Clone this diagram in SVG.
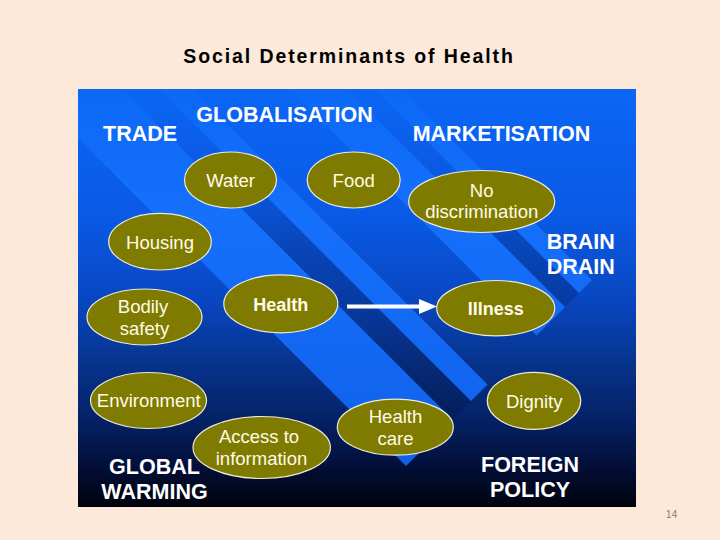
<svg xmlns="http://www.w3.org/2000/svg" width="720" height="540" viewBox="0 0 720 540">
  <defs>
    <linearGradient id="bg" x1="0" y1="0" x2="0" y2="1">
      <stop offset="0" stop-color="#0b66f6"/>
      <stop offset="0.3" stop-color="#0a5ae6"/>
      <stop offset="0.5" stop-color="#0947c2"/>
      <stop offset="0.65" stop-color="#07348f"/>
      <stop offset="0.8" stop-color="#042063"/>
      <stop offset="0.92" stop-color="#020c30"/>
      <stop offset="1" stop-color="#00030c"/>
    </linearGradient>
    <linearGradient id="band" gradientUnits="userSpaceOnUse" x1="0" y1="89" x2="0" y2="507">
      <stop offset="0" stop-color="#0c68f7"/>
      <stop offset="0.3" stop-color="#1570fc"/>
      <stop offset="1" stop-color="#0f5ee6"/>
    </linearGradient>
    <linearGradient id="shadeG" gradientUnits="userSpaceOnUse" x1="0" y1="89" x2="0" y2="507">
      <stop offset="0" stop-color="#000820" stop-opacity="0"/>
      <stop offset="0.18" stop-color="#000820" stop-opacity="0.04"/>
      <stop offset="0.4" stop-color="#000820" stop-opacity="0.18"/>
      <stop offset="1" stop-color="#000820" stop-opacity="0.2"/>
    </linearGradient>
    <clipPath id="panelClip">
      <rect x="78" y="89" width="558" height="418"/>
    </clipPath>
    <style>
      .band { fill: url(#band); }
      .shade { fill: url(#shadeG); }
      .node ellipse { fill: #7f7b00; stroke: #ecebd6; stroke-width: 1.2; }
      .node text { font-family: "Liberation Sans", Arial, sans-serif; font-size: 18.5px; fill: #fffbe8; text-anchor: middle; }
      .node text.b { font-weight: bold; font-size: 18px; }
      .lbl { font-family: "Liberation Sans", Arial, sans-serif; font-size: 21.5px; font-weight: bold; fill: #ffffff; }
    </style>
  </defs>

  <rect x="0" y="0" width="720" height="540" fill="#fce9da"/>

  <text x="183.3" y="63.3" font-family="Liberation Sans, Arial, sans-serif" font-size="19.5" font-weight="bold" letter-spacing="1.9" fill="#000000">Social Determinants of Health</text>

  <g id="panel">
    <rect x="78" y="89" width="558" height="418" fill="url(#bg)"/>
    <g clip-path="url(#panelClip)">
      <polygon class="band" points="20,80 66.5,33.5 452.5,419.5 406,466"/>
      <polygon class="shade" points="66.5,33.5 85,15 471,401 452.5,419.5"/>
      <polygon class="band" points="85,15 101.5,-1.5 487.5,384.5 471,401"/>
      <polygon class="band" points="250.5,49.5 279,21 565,307 536.5,335.5"/>
      <polygon class="shade" points="279,21 293,7 579,293 565,307"/>
      <polygon class="band" points="293,7 306,-6 592,280 579,293"/>
    </g>
  </g>

  <g id="labels">
    <text id="lbl-trade" class="lbl" x="103" y="141.3">TRADE</text>
    <text id="lbl-globalisation" class="lbl" x="196.3" y="122.3">GLOBALISATION</text>
    <text id="lbl-marketisation" class="lbl" x="412.7" y="141">MARKETISATION</text>
    <text id="lbl-braindrain" class="lbl" x="546.7" y="249">BRAIN<tspan x="546.7" y="274">DRAIN</tspan></text>
    <text id="lbl-globalwarming" class="lbl" x="154.5" y="473.5" text-anchor="middle">GLOBAL<tspan x="154.5" y="499">WARMING</tspan></text>
    <text id="lbl-foreignpolicy" class="lbl" x="530" y="472" text-anchor="middle">FOREIGN<tspan x="530" y="497">POLICY</tspan></text>
  </g>

  <g id="connectors">
    <line x1="347" y1="306.5" x2="421" y2="306.5" stroke="#ffffff" stroke-width="4"/>
    <polygon points="419,299 437,306.5 419,314" fill="#ffffff"/>
  </g>

  <g id="water" class="node">
    <ellipse cx="230.5" cy="180" rx="46" ry="28"/>
    <text x="230.5" y="187.3">Water</text>
  </g>
  <g id="food" class="node">
    <ellipse cx="353.7" cy="180" rx="46.5" ry="28"/>
    <text x="353.7" y="187.3">Food</text>
  </g>
  <g id="nodiscrimination" class="node">
    <ellipse cx="481.7" cy="201.5" rx="73" ry="31"/>
    <text x="481.7" y="197.3">No</text>
    <text x="481.7" y="218.3">discrimination</text>
  </g>
  <g id="housing" class="node">
    <ellipse cx="160" cy="241.7" rx="51.3" ry="28.3"/>
    <text x="160" y="249">Housing</text>
  </g>
  <g id="health" class="node">
    <ellipse cx="280.8" cy="303.8" rx="57" ry="29"/>
    <text class="b" x="280.8" y="311">Health</text>
  </g>
  <g id="bodilysafety" class="node">
    <ellipse cx="144.5" cy="317" rx="57.5" ry="28"/>
    <text x="143" y="313.3">Bodily</text>
    <text x="144.5" y="334.5">safety</text>
  </g>
  <g id="illness" class="node">
    <ellipse cx="495.7" cy="308.2" rx="59" ry="27.7"/>
    <text class="b" x="495.7" y="315">Illness</text>
  </g>
  <g id="environment" class="node">
    <ellipse cx="148.5" cy="400.5" rx="58" ry="28"/>
    <text x="148.8" y="406.7">Environment</text>
  </g>
  <g id="accesstoinformation" class="node">
    <ellipse cx="261.7" cy="447.5" rx="68.7" ry="31"/>
    <text x="259" y="442.7">Access to</text>
    <text x="261.5" y="465">information</text>
  </g>
  <g id="healthcare" class="node">
    <ellipse cx="395.3" cy="427.2" rx="58" ry="28"/>
    <text x="395.5" y="423.3">Health</text>
    <text x="395.5" y="445">care</text>
  </g>
  <g id="dignity" class="node">
    <ellipse cx="534" cy="400.8" rx="46.7" ry="28.5"/>
    <text x="534.2" y="408.3">Dignity</text>
  </g>

  <text x="671.5" y="518.3" font-family="Liberation Sans, Arial, sans-serif" font-size="10.5" fill="#808080" text-anchor="middle">14</text>
</svg>
